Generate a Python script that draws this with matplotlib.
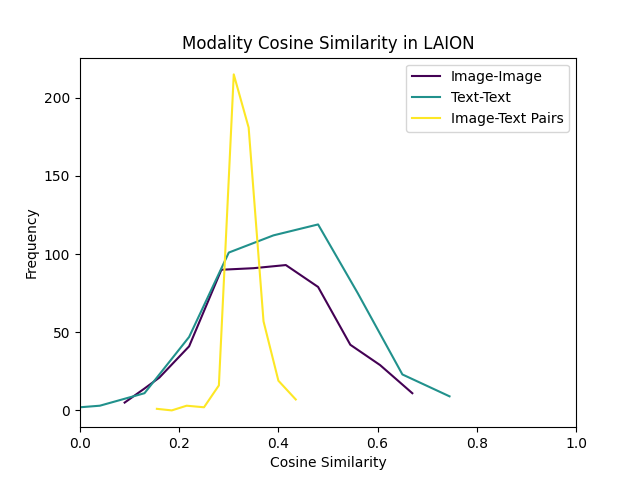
import matplotlib
matplotlib.use("Agg")
import matplotlib.pyplot as plt

img_x = [0.09, 0.13, 0.16, 0.22, 0.285, 0.35, 0.415, 0.48, 0.545, 0.605, 0.67]
img_y = [5, 14, 21, 41, 90, 91, 93, 79, 42, 29, 11]

txt_x = [0.0, 0.04, 0.13, 0.22, 0.30, 0.39, 0.48, 0.56, 0.65, 0.745]
txt_y = [2, 3, 11, 47, 101, 112, 119, 75, 23, 9]

pair_x = [0.155, 0.185, 0.215, 0.25, 0.28, 0.31, 0.34, 0.37, 0.40, 0.435]
pair_y = [1, 0, 3, 2, 16, 215, 181, 57, 19, 7]

fig, ax = plt.subplots(figsize=(6.4, 4.8), dpi=100)
ax.plot(img_x, img_y, color='#440154', label='Image-Image')
ax.plot(txt_x, txt_y, color='#21918c', label='Text-Text')
ax.plot(pair_x, pair_y, color='#fde725', label='Image-Text Pairs')
ax.set_xlim(0, 1)
ax.set_title('Modality Cosine Similarity in LAION')
ax.set_xlabel('Cosine Similarity')
ax.set_ylabel('Frequency')
ax.legend(loc='upper right')
fig.savefig('out.png')
